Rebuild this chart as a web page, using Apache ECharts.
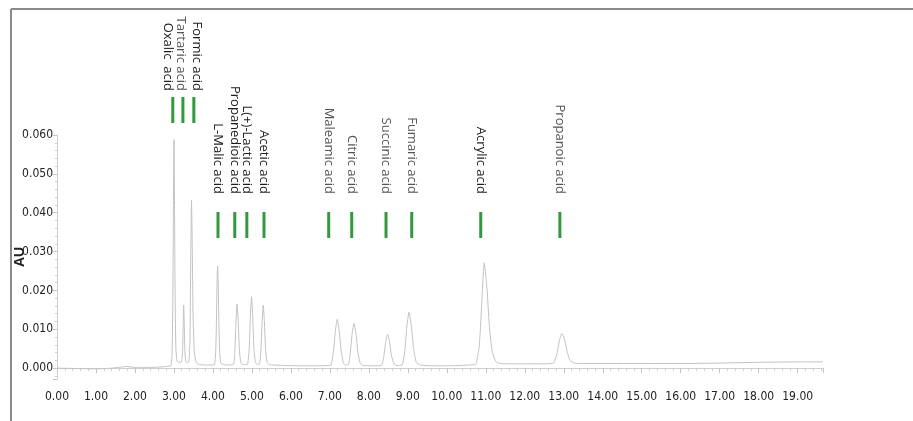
<!DOCTYPE html>
<html>
<head>
<meta charset="utf-8">
<script src="https://cdn.jsdelivr.net/npm/echarts@6/dist/echarts.min.js"></script>
<style>
  html, body { margin: 0; padding: 0; background: #fff; }
  #chart { width: 913px; height: 421px; }
</style>
</head>
<body>
<div id="chart"></div>
<script>
// retention time (min) and absorbance (AU) of the trace
var traceTime = [
  0.00, 0.50, 1.00, 1.40, 1.80, 2.00, 2.40, 2.70, 2.88,
  2.92, 2.95, 2.97, 2.985, 3.00, 3.015, 3.03, 3.05, 3.08, 3.12,
  3.19, 3.22, 3.235, 3.25, 3.265, 3.28, 3.30, 3.33,
  3.38, 3.41, 3.43, 3.45, 3.47, 3.49, 3.52, 3.56, 3.62, 3.80, 4.00,
  4.04, 4.07, 4.09, 4.105, 4.12, 4.135, 4.15, 4.175, 4.21, 4.35,
  4.52, 4.56, 4.59, 4.62, 4.65, 4.68, 4.72, 4.78,
  4.88, 4.93, 4.96, 4.99, 5.02, 5.05, 5.09, 5.14,
  5.19, 5.23, 5.26, 5.29, 5.32, 5.35, 5.39, 5.45,
  5.80, 6.30, 6.80, 7.00,
  7.03, 7.09, 7.14, 7.19, 7.24, 7.29, 7.35, 7.42,
  7.47, 7.52, 7.57, 7.62, 7.67, 7.72, 7.78, 7.85, 8.10,
  8.32, 8.38, 8.43, 8.48, 8.53, 8.58, 8.65, 8.72,
  8.85, 8.92, 8.97, 9.03, 9.09, 9.15, 9.22, 9.32,
  9.60, 10.00, 10.40, 10.70,
  10.75, 10.83, 10.89, 10.96, 11.03, 11.09, 11.16, 11.25, 11.35, 11.60,
  12.00, 12.50, 12.70,
  12.74, 12.82, 12.89, 12.95, 13.01, 13.08, 13.16, 13.28, 13.50,
  14.00, 15.00, 16.00, 17.00, 18.00, 19.00, 19.65
]
var traceAU = [
  0.0000, -0.0001, -0.0002, 0.0000, 0.0004, 0.0002, 0.0002, 0.0003, 0.0005,
  0.0006, 0.0030, 0.0160, 0.0400, 0.0588, 0.0410, 0.0180, 0.0050, 0.0018, 0.0015,
  0.0016, 0.0040, 0.0100, 0.0162, 0.0110, 0.0045, 0.0018, 0.0013,
  0.0016, 0.0070, 0.0270, 0.0433, 0.0310, 0.0140, 0.0045, 0.0018, 0.0010, 0.0008, 0.0008,
  0.0009, 0.0040, 0.0120, 0.0220, 0.0263, 0.0220, 0.0130, 0.0040, 0.0012, 0.0008,
  0.0009, 0.0040, 0.0115, 0.0165, 0.0120, 0.0045, 0.0013, 0.0009,
  0.0009, 0.0050, 0.0130, 0.0184, 0.0135, 0.0055, 0.0014, 0.0010,
  0.0010, 0.0045, 0.0115, 0.0162, 0.0120, 0.0050, 0.0015, 0.0009,
  0.0007, 0.0006, 0.0006, 0.0007,
  0.0008, 0.0040, 0.0095, 0.0126, 0.0095, 0.0045, 0.0012, 0.0008,
  0.0008, 0.0035, 0.0088, 0.0115, 0.0088, 0.0040, 0.0012, 0.0007, 0.0006,
  0.0007, 0.0028, 0.0066, 0.0087, 0.0068, 0.0032, 0.0010, 0.0007,
  0.0008, 0.0042, 0.0102, 0.0144, 0.0108, 0.0048, 0.0014, 0.0008,
  0.0006, 0.0006, 0.0007, 0.0009,
  0.0011, 0.0055, 0.0155, 0.0271, 0.0205, 0.0110, 0.0045, 0.0018, 0.0012, 0.0011,
  0.0011, 0.0011, 0.0012,
  0.0013, 0.0035, 0.0072, 0.0089, 0.0078, 0.0045, 0.0020, 0.0013, 0.0012,
  0.0012, 0.0012, 0.0012, 0.0013, 0.0015, 0.0016, 0.0016
]

// peak identification markers
var peakNames = [
  'Oxalic  acid', 'Tartaric acid', 'Formic acid',
  'L-Malic acid', 'Propanedioic acid', 'L(+)-Lactic acid', 'Acetic acid',
  'Maleamic acid', 'Citric acid', 'Succinic acid', 'Fumaric acid',
  'Acrylic acid', 'Propanoic acid'
]
var peakTimes = [2.97, 3.23, 3.51, 4.13, 4.56, 4.87, 5.31, 6.97, 7.56, 8.44, 9.10, 10.87, 12.90]

var xMin = 0
var xMax = 19.65
var yMin = -0.0028
var yMax = 0.06

var darkLabels = ['Oxalic  acid', 'Formic acid', 'L-Malic acid', 'Propanedioic acid', 'L(+)-Lactic acid', 'Acetic acid', 'Acrylic acid']
var labelShift = [-5, -2, 3] // first three labels are spread apart a little

var chart = echarts.init(document.getElementById('chart'))

var tickFont = '"Liberation Sans Narrow", "DejaVu Sans Condensed", "Liberation Sans", sans-serif'

var option = {
  animation: false,
  grid: { left: 57, right: 90, top: 135, bottom: 42, containLabel: false, outerBoundsMode: 'none' },
  graphic: [
    { type: 'line', shape: { x1: 11, y1: 9, x2: 11, y2: 421 }, style: { stroke: '#8a8a8a', lineWidth: 2 } },
    { type: 'line', shape: { x1: 11, y1: 9, x2: 913, y2: 9 }, style: { stroke: '#8a8a8a', lineWidth: 2 } }
  ],
  xAxis: {
    type: 'value',
    min: xMin,
    max: xMax,
    interval: 1,
    splitLine: { show: false },
    axisLine: { lineStyle: { color: '#cfcfcf' } },
    axisTick: { length: 5, lineStyle: { color: '#c4c4c4' } },
    minorTick: { show: true, splitNumber: 5, length: 3, lineStyle: { color: '#cfcfcf' } },
    axisLabel: {
      color: '#222',
      fontSize: 12,
      fontFamily: tickFont,
      margin: 12,
      showMaxLabel: false,
      formatter: function (v) { return v.toFixed(2) }
    }
  },
  yAxis: {
    type: 'value',
    min: yMin,
    max: yMax,
    splitNumber: 6,
    name: 'AU',
    nameLocation: 'middle',
    nameGap: 30,
    nameRotate: 90,
    nameMoveOverlap: false,
    nameTextStyle: { color: '#222', fontSize: 14, fontWeight: 'bold', fontFamily: '"Liberation Sans", sans-serif' },
    splitLine: { show: false },
    axisLine: { show: true, lineStyle: { color: '#cfcfcf' } },
    axisTick: { show: true, length: 4, lineStyle: { color: '#c4c4c4' } },
    minorTick: { show: true, splitNumber: 5, length: 2, lineStyle: { color: '#cfcfcf' } },
    axisLabel: {
      color: '#222',
      fontSize: 12,
      fontFamily: tickFont,
      margin: 4,
      showMinLabel: false,
      formatter: function (v) { return v.toFixed(3) }
    }
  },
  series: [
    {
      name: 'trace',
      type: 'line',
      data: traceTime.map(function (t, i) { return [t, traceAU[i]] }),
      showSymbol: false,
      smooth: 0.2,
      lineStyle: { color: '#c2c2c2', width: 1 },
      silent: true
    },
    {
      name: 'peaks',
      type: 'custom',
      coordinateSystem: 'cartesian2d',
      clip: false,
      silent: true,
      z: 5,
      data: peakTimes.map(function (t, i) { return [t, i] }),
      renderItem: function (params, api) {
        var i = api.value(1)
        var x = api.coord([api.value(0), yMax])[0]
        var top = api.coord([xMin, yMax])[1]
        var raised = i < 3
        var barTop = raised ? top - 38 : top + 77
        var textBottom = raised ? top - 44 : top + 59
        var name = peakNames[i]
        return {
          type: 'group',
          children: [
            {
              type: 'rect',
              shape: { x: x - 1.5, y: barTop, width: 3, height: 26 },
              style: { fill: '#33993d' }
            },
            {
              type: 'text',
              x: x + (labelShift[i] || 0),
              y: textBottom,
              rotation: -Math.PI / 2,
              style: {
                text: name,
                fill: darkLabels.indexOf(name) >= 0 ? '#1c1c1c' : '#555',
                fontSize: 13,
                fontFamily: '"Open Sans", "Noto Sans", sans-serif',
                align: 'right',
                verticalAlign: 'middle'
              }
            }
          ]
        }
      }
    }
  ]
}
chart.setOption(option)
</script>
</body>
</html>
